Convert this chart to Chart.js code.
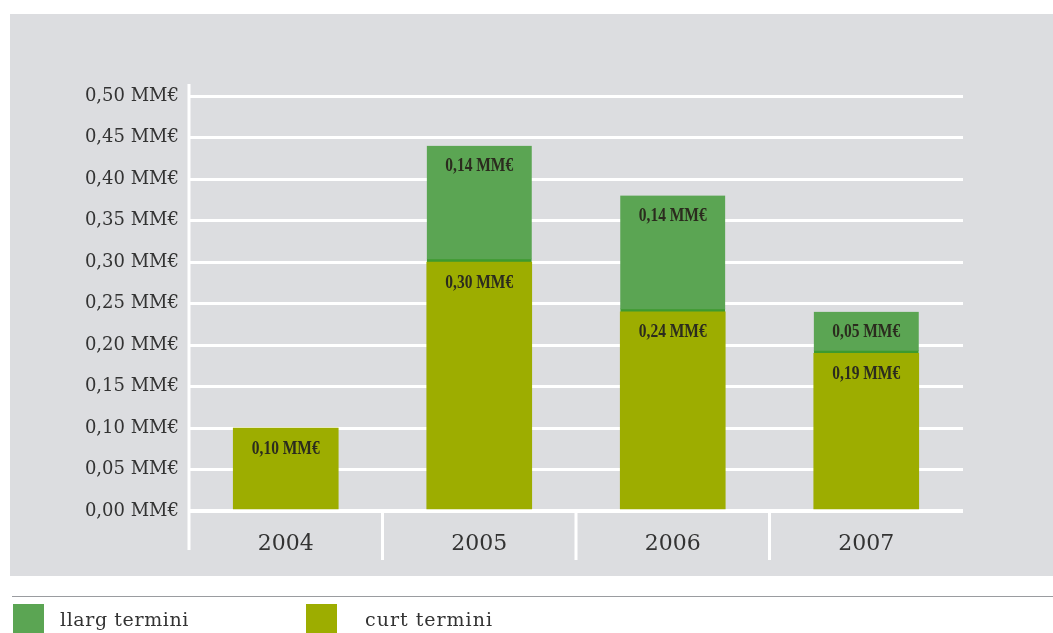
<!DOCTYPE html>
<html>
<head>
<meta charset="utf-8">
<script src="https://cdn.jsdelivr.net/npm/chart.js@4"></script>
<style>
  body { margin: 0; background: #fff; }
  #wrap { position: relative; width: 1053px; height: 633px; overflow: hidden; }
  #chart { position: absolute; left: 0; top: 0; }
  .rule { position: absolute; left: 12px; top: 596px; width: 1041px; height: 1px; background: #9a9ca0; }
  .key { position: absolute; top: 604px; width: 31px; height: 30px; }
  .lbl { position: absolute; top: 608px; font: 19px "DejaVu Serif", serif; letter-spacing: 0.6px; color: #333; }
</style>
</head>
<body>
<div id="wrap">
  <canvas id="chart" width="1053" height="633"></canvas>
  <div class="rule"></div>
  <div class="key" style="left:13px;background:#5ba553"></div>
  <div class="lbl" style="left:60px">llarg termini</div>
  <div class="key" style="left:306px;background:#9dad00"></div>
  <div class="lbl" style="left:365px;letter-spacing:1px">curt termini</div>
</div>
<script>
// import per any, milions d'euros
const anys = ['2004', '2005', '2006', '2007'];
const curtTermini = [0.10, 0.30, 0.24, 0.19];
const llargTermini = [null, 0.14, 0.14, 0.05];

const fmt = v => v.toFixed(2).replace('.', ',') + ' MM€';

// fons gris, eix vertical i separadors d'anys
const fons = {
  id: 'fons',
  beforeDraw(chart) {
    const { ctx } = chart;
    ctx.save();
    ctx.fillStyle = '#dcdde0';
    ctx.fillRect(10, 14, 1043, 562);
    ctx.restore();
  },
  afterDraw(chart) {
    const { ctx, chartArea, scales } = chart;
    const x = scales.x;
    const base = scales.y.getPixelForValue(0);
    ctx.save();
    ctx.strokeStyle = '#ffffff';
    ctx.lineWidth = 3;
    ctx.beginPath();
    ctx.moveTo(chartArea.left, chartArea.top - 12);
    ctx.lineTo(chartArea.left, base + 39);
    for (let i = 1; i < anys.length; i++) {
      const px = (x.getPixelForValue(i - 1) + x.getPixelForValue(i)) / 2;
      ctx.moveTo(px, base);
      ctx.lineTo(px, base + 49);
    }
    ctx.stroke();
    ctx.restore();
  }
};

// etiquetes de valor dins de cada tram
const valors = {
  id: 'valors',
  afterDatasetsDraw(chart) {
    const { ctx } = chart;
    ctx.save();
    ctx.fillStyle = '#2b2b1e';
    ctx.font = 'bold 18px "Liberation Serif", serif';
    ctx.textAlign = 'center';
    ctx.textBaseline = 'middle';
    chart.data.datasets.forEach((ds, di) => {
      chart.getDatasetMeta(di).data.forEach((bar, i) => {
        const v = ds.data[i];
        if (v == null) return;
        ctx.save();
        ctx.translate(bar.x, bar.y + 21);
        ctx.scale(0.86, 1);
        ctx.fillText(fmt(v), 0, 0);
        ctx.restore();
      });
    });
    ctx.restore();
  }
};

new Chart(document.getElementById('chart'), {
  type: 'bar',
  data: {
    labels: anys,
    datasets: [
      {
        label: 'curt termini',
        data: curtTermini,
        backgroundColor: '#9dad00',
        borderWidth: 0,
        barThickness: 105
      },
      {
        label: 'llarg termini',
        data: llargTermini,
        backgroundColor: '#5ba553',
        borderColor: '#3d9a2e',
        borderWidth: { top: 0, left: 0, right: 0, bottom: 3 },
        borderSkipped: false,
        barThickness: 105
      }
    ]
  },
  options: {
    responsive: false,
    animation: false,
    devicePixelRatio: 1,
    layout: { padding: { left: 0, top: 96, right: 90, bottom: 62 } },
    plugins: { legend: { display: false }, tooltip: { enabled: false } },
    scales: {
      x: {
        stacked: true,
        grid: { display: false },
        border: { display: false },
        ticks: {
          color: '#333',
          font: { family: '"DejaVu Serif", serif', size: 22 },
          padding: 12
        },
        afterFit(s) { s.height = 60; }
      },
      y: {
        stacked: true,
        min: 0,
        max: 0.5,
        ticks: {
          stepSize: 0.05,
          color: '#333',
          font: { family: '"DejaVu Serif", serif', size: 18 },
          padding: 10,
          callback: v => fmt(v)
        },
        grid: {
          color: '#ffffff',
          lineWidth: ctx => ctx.tick && ctx.tick.value === 0 ? 4 : 3,
          drawTicks: false
        },
        border: { display: false },
        afterFit(s) { s.width = 189; }
      }
    }
  },
  plugins: [fons, valors]
});
</script>
</body>
</html>
